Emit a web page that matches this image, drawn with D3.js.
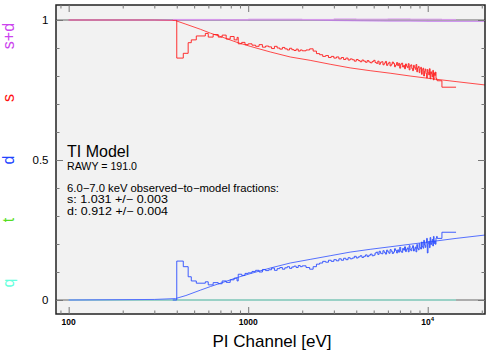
<!DOCTYPE html>
<html><head><meta charset="utf-8">
<script src="https://cdn.jsdelivr.net/npm/d3@7"></script>
<style>body{margin:0;background:#fff;} svg{display:block;font-family:"Liberation Sans",Arial,Helvetica,sans-serif;}</style>
</head><body><svg id="c" width="493" height="355"></svg>
<script>
// ---------- data ----------
const binE = [380, 400, 435, 463, 482, 514, 577, 599, 638, 681, 716, 754, 794, 835, 867, 880, 920, 960,
  1000,1050,1100,1150,1200,1250,1300,1350,1400,1450,1500,1550,1600,1650,1700,1750,1800,1850,1900,1950,
  2000,2100,2200,2300,2400,2500,2600,2700,2800,2900,3000,3100,3200,3300,3400,3500,3600,3700,3800,3900,
  4000,4100,4200,4300,4400,4500,4600,4700,4800,4900,
  5000,5090,5180,5270,5360,5450,5540,5630,5720,5810,5900,5990,6080,6170,6260,6350,6440,6530,6620,6710,
  6800,6890,6980,7070,7160,7250,7340,7430,7520,7610,7700,7790,7880,7970,8060,8150,8240,8330,8420,8510,
  8600,8690,8780,8870,8960,9050,9140,9230,9320,9410,9500,9590,9680,9770,9860,9950,10040,10130,10220,10310,
  10400,10490,10580,10670,10760,10850,10940,11030,11120,11210,
  11300,12000];
const binEnd = 14380;
const sData = [1.000,0.864,0.881,0.919,0.929,0.943,0.952,0.939,0.948,0.939,0.946,0.932,0.941,0.929,0.938,0.915,0.920,0.912,
  0.915,0.910,0.906,0.912,0.903,0.907,0.904,0.898,0.906,0.900,0.896,0.902,0.897,0.893,0.899,0.894,0.891,0.896,0.889,0.893,
  0.890,0.893,0.897,0.889,0.880,0.876,0.870,0.873,0.866,0.870,0.864,0.868,0.861,0.866,0.859,0.864,0.857,0.861,0.858,0.853,
  0.859,0.855,0.851,0.857,0.853,0.849,0.855,0.850,0.847,0.852,
  0.856,0.848,0.845,0.853,0.842,0.849,0.851,0.840,0.846,0.852,0.838,0.844,0.849,0.836,0.842,0.850,0.845,0.833,0.839,0.848,
  0.837,0.845,0.828,0.842,0.846,0.832,0.838,0.826,0.843,0.835,0.830,0.844,0.822,0.836,0.840,0.827,0.819,0.838,0.831,0.824,
  0.841,0.815,0.829,0.834,0.812,0.826,0.831,0.806,0.822,0.828,0.800,0.817,0.825,0.809,0.793,0.823,0.812,0.804,0.826,0.790,
  0.815,0.808,0.797,0.820,0.786,0.811,0.802,0.814,0.792,0.786,
  0.783,0.760];
const dData = [0.000,0.139,0.119,0.083,0.068,0.060,0.065,0.054,0.062,0.058,0.068,0.063,0.072,0.078,0.068,0.092,0.088,0.095,
  0.097,0.102,0.106,0.100,0.109,0.105,0.108,0.114,0.106,0.112,0.116,0.110,0.115,0.119,0.113,0.118,0.121,0.116,0.123,0.119,
  0.122,0.116,0.110,0.119,0.128,0.132,0.138,0.135,0.142,0.138,0.144,0.140,0.147,0.142,0.149,0.144,0.151,0.147,0.150,0.156,
  0.150,0.154,0.158,0.152,0.156,0.161,0.155,0.160,0.164,0.158,
  0.160,0.168,0.171,0.163,0.174,0.167,0.165,0.176,0.170,0.164,0.178,0.172,0.167,0.180,0.174,0.166,0.171,0.183,0.177,0.168,
  0.179,0.171,0.188,0.174,0.170,0.184,0.178,0.190,0.173,0.181,0.186,0.172,0.194,0.180,0.176,0.186,0.194,0.175,0.182,0.189,
  0.172,0.198,0.184,0.179,0.201,0.187,0.182,0.207,0.191,0.185,0.213,0.196,0.188,0.204,0.220,0.168,0.201,0.209,0.187,0.223,
  0.198,0.205,0.216,0.193,0.227,0.202,0.211,0.199,0.221,0.227,
  0.220,0.242];
const sdE = [380, 700, 1000, 2000, 3000, 4000, 6000, 8000, 10000, 12000];
const sdData = [1.002, 1.001, 1.003, 1.002, 1.004, 1.003, 1.004, 1.003, 1.003, 1.002];
const modelE = [100, 300, 393, 450, 541, 616, 716, 867, 1025, 1325, 1713, 2213, 2860, 3696, 4776, 6170, 7975, 10300, 14380, 20850];
const sModel = [1.000, 1.000, 0.998, 0.985, 0.967, 0.953, 0.939, 0.920, 0.906, 0.886, 0.868, 0.856, 0.842, 0.829, 0.819, 0.810, 0.800, 0.791, 0.780, 0.768];
const dModel = [0.000, 0.002, 0.005, 0.016, 0.035, 0.048, 0.062, 0.080, 0.094, 0.114, 0.132, 0.145, 0.158, 0.171, 0.181, 0.190, 0.199, 0.208, 0.220, 0.232];
const sdModel = [1.000, 1.000, 1.000, 1.000, 1.000, 1.000, 1.000, 1.000, 1.000, 1.000, 1.000, 1.000, 0.999, 0.998, 0.997, 0.996, 0.996, 0.995, 0.995, 0.995];
const qE = [100, 14380];
const qData = [0, 0];
const xMajor = [100, 1000, 10000];
const xMinor = [90, 200, 300, 400, 500, 600, 700, 800, 900, 2000, 3000, 4000, 5000, 6000, 7000, 8000, 9000, 20000];
const yMajor = [0, 0.5, 1];
const yMinor = [0.1, 0.2, 0.3, 0.4, 0.6, 0.7, 0.8, 0.9];
const yTickLabels = ["0", "0.5", "1"];
const seriesNames = ["s+d", "s", "d", "t", "q"];
const seriesColors = ["#cc44ee", "#ff1111", "#2244ff", "#55dd22", "#66ffdd"];
const textLines = ["RAWY = 191.0", "6.0\u22127.0 keV observed\u2212to\u2212model fractions:", "s: 1.031 +/\u2212 0.003", "d: 0.912 +/\u2212 0.004"];

// ---------- layout ----------
const L = 56, R = 485, T = 5, B = 314;
const svg = d3.select("#c");
const x = d3.scaleLog().domain([85, 20850]).range([L, R]);
const y = d3.scaleLinear().domain([0, 1]).range([300, 20]);

svg.append("rect").attr("x", L).attr("y", T).attr("width", R - L).attr("height", B - T).attr("fill", "#f2f2f2");
svg.append("clipPath").attr("id", "clip").append("rect").attr("x", L).attr("y", T).attr("width", R - L).attr("height", B - T);
const g = svg.append("g").attr("clip-path", "url(#clip)");

[0, 1].forEach(v => g.append("line").attr("x1", L).attr("x2", R).attr("y1", y(v)).attr("y2", y(v))
  .attr("stroke", "#666").attr("stroke-width", 1));

const pts = (E, V, end) => { const p = E.map((e, i) => [e, V[i]]); if (end) p.push([end, V[V.length - 1]]); return p; };
const lineStep = d3.line().x(d => x(d[0])).y(d => y(d[1])).curve(d3.curveStepAfter);
const lineLin = d3.line().x(d => x(d[0])).y(d => y(d[1]));

function draw(data, gen, color, w, op) {
  g.append("path").datum(data).attr("d", gen).attr("fill", "none").attr("stroke", color)
    .attr("stroke-width", w).attr("stroke-opacity", op || 1).attr("stroke-linejoin", "round");
}
draw(pts(qE, qData), lineLin, "#88f5e0", 1.2);
draw(pts(modelE, dModel), lineLin, "#5570ff", 1);
draw(pts(modelE, sModel), lineLin, "#ff4a4a", 1);
draw(pts(modelE, sdModel), lineLin, "#c070f0", 1.2, 0.7);
draw(pts(binE, dData, binEnd), lineStep, "#2a4cff", 0.9);
draw(pts(binE, sData, binEnd), lineStep, "#ff1a1a", 0.9);
draw(pts(sdE, sdData, binEnd), lineStep, "#dd99f2", 1, 0.9);

svg.append("rect").attr("x", L).attr("y", T).attr("width", R - L).attr("height", B - T)
  .attr("fill", "none").attr("stroke", "#222").attr("stroke-width", 1.5);

function ax(axisFn, scale, vals, size, tr) {
  const a = svg.append("g").attr("transform", tr)
    .call(axisFn(scale).tickValues(vals).tickSize(-size).tickFormat(""));
  a.select(".domain").remove();
  a.selectAll("line").attr("stroke", "#777").attr("stroke-width", 1);
}
ax(d3.axisBottom, x, xMajor, 7, `translate(0,${B})`);
ax(d3.axisBottom, x, xMinor, 3.5, `translate(0,${B})`);
ax(d3.axisTop, x, xMajor, 7, `translate(0,${T})`);
ax(d3.axisTop, x, xMinor, 3.5, `translate(0,${T})`);
ax(d3.axisLeft, y, yMajor, 7, `translate(${L},0)`);
ax(d3.axisLeft, y, yMinor, 3.5, `translate(${L},0)`);
ax(d3.axisRight, y, yMajor, 7, `translate(${R},0)`);
ax(d3.axisRight, y, yMinor, 3.5, `translate(${R},0)`);

yMajor.forEach((v, i) => svg.append("text").attr("x", 48.5).attr("y", y(v) + 4).attr("text-anchor", "end")
  .attr("font-size", 11.5).attr("fill", "#000").text(yTickLabels[i]));

xMajor.forEach(v => {
  const t = svg.append("text").attr("x", x(v)).attr("y", 324.5).attr("text-anchor", "middle")
    .attr("font-size", 8.5).attr("font-weight", "bold").attr("fill", "#000");
  if (v >= 10000) {
    t.append("tspan").text("10");
    t.append("tspan").attr("dy", -3.5).attr("font-size", 6).text(Math.round(Math.log10(v)));
  } else t.text(v);
});

svg.append("text").attr("x", 272).attr("y", 347).attr("text-anchor", "middle")
  .attr("font-size", 17).attr("fill", "#000").text("PI Channel [eV]");

const sideY = [36, 98, 160, 220, 283];
seriesNames.forEach((n, i) => svg.append("text")
  .attr("transform", `translate(13.5,${sideY[i]}) rotate(-90)`).attr("text-anchor", "middle")
  .attr("font-size", 16).attr("fill", seriesColors[i]).text(n));

svg.append("text").attr("x", 67).attr("y", 157).attr("font-size", 16).attr("fill", "#000").text("TI Model");
const tl = [[169.5, 10.5, 70], [191.5, 10.5, 212], [203.3, 10.5, 101], [215, 10.5, 101]];
textLines.forEach((s, i) => svg.append("text").attr("x", 67).attr("y", tl[i][0]).attr("font-size", tl[i][1])
  .attr("textLength", tl[i][2]).attr("lengthAdjust", "spacingAndGlyphs").attr("fill", "#000").text(s));
</script></body></html>
